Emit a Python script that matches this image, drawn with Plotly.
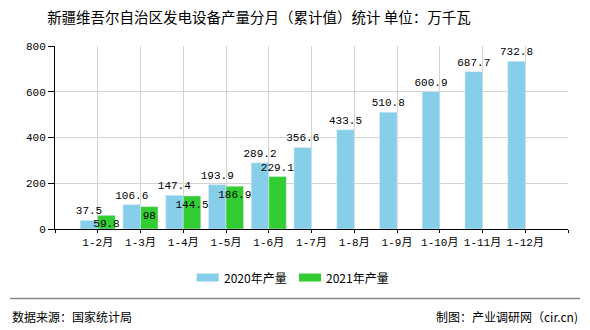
import plotly.graph_objects as go

categories = ["1-2月", "1-3月", "1-4月", "1-5月", "1-6月", "1-7月", "1-8月", "1-9月", "1-10月", "1-11月", "1-12月"]
values_2020 = [37.5, 106.6, 147.4, 193.9, 289.2, 356.6, 433.5, 510.8, 600.9, 687.7, 732.8]
values_2021 = [59.8, 98, 144.5, 186.9, 229.1]
series_names = ["2020年产量", "2021年产量"]
y_ticks = [0, 200, 400, 600, 800]

W, H = 590, 330
L, R, T, B = 55, 568, 46, 229

def px(x):
    return (x - L) / (R - L)

def py(y):
    return (B - y) / (B - T)

BLUE = "#87CEEB"
GREEN = "#32CD32"
MONO = "Liberation Mono, Noto Sans CJK SC"
CJK = "Noto Sans CJK SC, sans-serif"

xpos = list(range(len(categories)))

fig = go.Figure()
fig.add_trace(go.Bar(
    x=xpos, y=values_2020, name=series_names[0], marker_color=BLUE,
    text=[f"{v:g}" for v in values_2020], textposition="outside",
    textfont=dict(family=MONO, size=11, color="#000"), textangle=0,
    constraintext="none", cliponaxis=False, showlegend=False,
))
green_pos = ["inside" if v < 200 else "outside" for v in values_2021]
fig.add_trace(go.Bar(
    x=xpos[:len(values_2021)], y=values_2021, name=series_names[1], marker_color=GREEN,
    text=[f"{v:g}" for v in values_2021], textposition=green_pos,
    insidetextanchor="end",
    textfont=dict(family=MONO, size=11, color="#000"), textangle=0,
    constraintext="none", cliponaxis=False, showlegend=False,
))

fig.update_layout(
    width=W, height=H,
    margin=dict(l=L, r=W - R, t=T, b=H - B),
    paper_bgcolor="white", plot_bgcolor="white",
    barmode="group", bargap=0.18, bargroupgap=0,
    title=dict(text="新疆维吾尔自治区发电设备产量分月（累计值）统计 单位：万千瓦",
               x=259 / W, xanchor="center", y=1 - 18 / H, yanchor="middle",
               xref="container", yref="container",
               font=dict(family=CJK, size=14.5, color="#000")),
    xaxis=dict(
        range=[-1, len(categories)], tickmode="array",
        tickvals=list(range(-1, len(categories) + 1)),
        ticktext=[""] + categories + [""],
        showgrid=True, gridcolor="#d3d3d3", gridwidth=1,
        showline=True, linecolor="#000", linewidth=1,
        ticks="outside", ticklen=3, tickcolor="#000",
        tickfont=dict(family=MONO, size=11, color="#000"),
        zeroline=False, fixedrange=True,
    ),
    yaxis=dict(
        range=[0, 800], tickmode="array", tickvals=y_ticks,
        showgrid=True, gridcolor="#d3d3d3", gridwidth=1,
        showline=True, linecolor="#000", linewidth=1,
        ticks="outside", ticklen=6, tickcolor="#000",
        tickfont=dict(family=MONO, size=11, color="#000"),
        zeroline=False, fixedrange=True,
    ),
    font=dict(family=CJK, color="#000"),
)

# custom legend
legend_items = [(196.7, BLUE, series_names[0]), (299, GREEN, series_names[1])]
for x0, col, name in legend_items:
    fig.add_shape(type="rect", xref="paper", yref="paper",
                  x0=px(x0), x1=px(x0 + 22), y0=py(281.5), y1=py(273.5),
                  fillcolor=col, line=dict(width=0))
    fig.add_annotation(xref="paper", yref="paper", x=px(x0 + 25), y=py(277.5),
                       text=name, showarrow=False, xanchor="left", yanchor="middle",
                       font=dict(family=CJK, size=12, color="#000"))

# footer
fig.add_shape(type="line", xref="paper", yref="paper",
              x0=px(10), x1=px(580), y0=py(298.5), y1=py(298.5),
              line=dict(color="#888888", width=1.5))
fig.add_annotation(xref="paper", yref="paper", x=px(10), y=py(316),
                   text="数据来源：国家统计局", showarrow=False, xanchor="left", yanchor="middle",
                   font=dict(family=CJK, size=12, color="#000"))
fig.add_annotation(xref="paper", yref="paper", x=px(580), y=py(316),
                   text="制图：产业调研网（cir.cn)", showarrow=False, xanchor="right", yanchor="middle",
                   font=dict(family=CJK, size=12, color="#000"))

fig.write_html("out.html")
